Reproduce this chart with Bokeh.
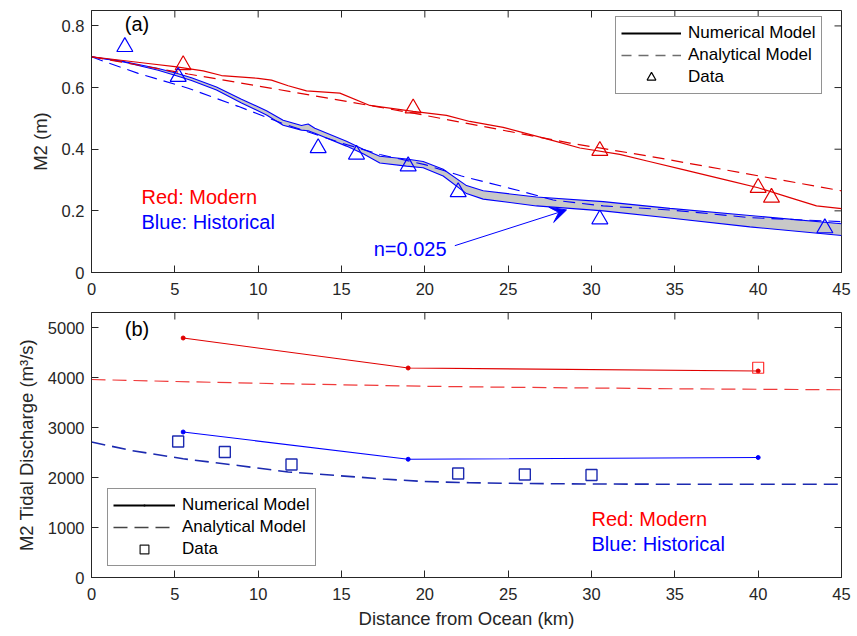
import math
from bokeh.plotting import figure
from bokeh.models import (Range1d, FixedTicker, Legend, LegendItem, Arrow, VeeHead)
from bokeh.layouts import column
from bokeh.embed import file_html
from bokeh.resources import INLINE
from bokeh.core.properties import value

FONT = "Liberation Sans"
AXC = "#262626"
NAN = float("nan")

# ---------------- shared ----------------
x_ticks = [0, 5, 10, 15, 20, 25, 30, 35, 40, 45]
x_label = "Distance from Ocean (km)"

# ---------------- panel (a): M2 amplitude ----------------
a_y_ticks = [0, 0.2, 0.4, 0.6, 0.8]
a_y_label = "M2 (m)"
a_red_num_x = [0, 3.4, 5.0, 6.7, 7.8, 10.0, 10.8, 11.8, 12.9, 14.9, 16.7, 19.3, 21.3,
               22.7, 24.7, 27.7, 29.3, 31.7, 33.4, 35.5, 38.3, 40.0, 41.9, 43.5, 45]
a_red_num_y = [0.70, 0.678, 0.668, 0.654, 0.639, 0.63, 0.624, 0.606, 0.589, 0.582, 0.542,
               0.523, 0.51, 0.49, 0.471, 0.428, 0.404, 0.383, 0.361, 0.334, 0.297, 0.275,
               0.243, 0.216, 0.207]
a_red_ana_x = [0, 5.8, 11.3, 15.3, 19.3, 23.3, 28.7, 33.5, 45]
a_red_ana_y = [0.70, 0.644, 0.593, 0.555, 0.517, 0.476, 0.42, 0.377, 0.265]
a_blue_band_x = [0, 2, 4, 5, 6, 7.5, 9, 10.5, 11.5, 12.6, 13.0, 13.4, 15.3, 16.3, 17.3,
                 18.9, 19.9, 21.1, 22.5, 23.5, 26.7, 30.7, 34.7, 39.5, 45]
a_blue_band_hi = [0.700, 0.684, 0.662, 0.648, 0.632, 0.602, 0.562, 0.525, 0.494, 0.477,
                  0.482, 0.468, 0.426, 0.400, 0.377, 0.368, 0.360, 0.335, 0.282, 0.265,
                  0.245, 0.230, 0.208, 0.185, 0.158]
a_blue_band_lo = [0.700, 0.682, 0.656, 0.640, 0.623, 0.592, 0.550, 0.511, 0.478, 0.462,
                  0.460, 0.452, 0.410, 0.385, 0.355, 0.345, 0.340, 0.313, 0.256, 0.238,
                  0.216, 0.200, 0.177, 0.148, 0.120]
a_blue_ana_x = [0, 1, 2.8, 5.8, 8.8, 11.4, 15, 17.3, 20, 22.2, 25.7, 27.7, 30.7, 34.7, 39.5, 45]
a_blue_ana_y = [0.70, 0.68, 0.646, 0.598, 0.539, 0.485, 0.42, 0.383, 0.35, 0.313, 0.265,
                0.235, 0.216, 0.203, 0.178, 0.165]
a_red_data_x = [5.5, 19.3, 30.5, 40.0, 40.8]
a_red_data_y = [0.673, 0.533, 0.395, 0.275, 0.243]
a_blue_data_x = [2.0, 5.2, 13.6, 15.9, 19.0, 22.0, 30.5, 44.0]
a_blue_data_y = [0.732, 0.635, 0.404, 0.383, 0.345, 0.261, 0.173, 0.144]
a_tag = ["(a)"]
a_tag_x = [2.0]
a_tag_y = [0.806]
a_note_text = ["Red: Modern", "Blue: Historical"]
a_note_x = [3.0, 3.0]
a_note_y = [0.245, 0.165]
a_n_text = ["n=0.025"]
a_n_x = [21.3]
a_n_y = [0.077]
a_arrow_start = (21.8, 0.087)
a_arrow_end = (28.5, 0.203)

# ---------------- panel (b): M2 tidal discharge ----------------
b_y_ticks = [0, 1000, 2000, 3000, 4000, 5000]
b_y_label = "M2 Tidal Discharge (m³/s)"
b_red_num_x = [5.5, 19.0, 40.0]
b_red_num_y = [4790, 4190, 4130]
b_blue_num_x = [5.5, 19.0, 40.0]
b_blue_num_y = [2910, 2365, 2400]
b_red_ana_x = [0, 5, 10, 15, 20, 25, 30, 35, 40, 45]
b_red_ana_y = [3960, 3920, 3885, 3855, 3825, 3805, 3790, 3775, 3765, 3755]
b_blue_ana_x = [0, 2.4, 5.5, 8.8, 11.8, 14.9, 17.5, 19.9, 22.7, 26, 30, 34, 40, 45]
b_blue_ana_y = [2710, 2540, 2375, 2240, 2110, 2035, 1970, 1920, 1895, 1880, 1870, 1866,
                1865, 1865]
b_red_data_x = [40.0]
b_red_data_y = [4195]
b_blue_data_x = [5.2, 8.0, 12.0, 22.0, 26.0, 30.0]
b_blue_data_y = [2720, 2510, 2260, 2080, 2060, 2050]
b_tag = ["(b)"]
b_tag_x = [2.0]
b_tag_y = [4980]
b_note_text = ["Red: Modern", "Blue: Historical"]
b_note_x = [30.0, 30.0]
b_note_y = [1180, 680]

legend_labels = ["Numerical Model", "Analytical Model", "Data"]

X_MAX = 45


def make_fig(ymax, yticks, frame_h, top_b, bottom_b, ylabel, with_xlabel):
    p = figure(frame_width=750, frame_height=frame_h,
               x_range=Range1d(0, X_MAX), y_range=Range1d(0, ymax),
               output_backend="svg", toolbar_location=None,
               min_border_left=91, min_border_right=12,
               min_border_top=top_b, min_border_bottom=bottom_b)
    p.grid.visible = False
    p.outline_line_color = AXC
    p.outline_line_width = 1
    p.xaxis.ticker = FixedTicker(ticks=x_ticks)
    p.yaxis.ticker = FixedTicker(ticks=yticks)
    for ax in (p.xaxis[0], p.yaxis[0]):
        ax.axis_line_color = AXC
        ax.major_tick_line_color = AXC
        ax.minor_tick_line_color = None
        ax.major_tick_in = 7
        ax.major_tick_out = 0
        ax.major_label_text_font = FONT
        ax.major_label_text_font_size = "16.5px"
        ax.major_label_text_color = AXC
        ax.axis_label_text_font = FONT
        ax.axis_label_text_font_size = "18.5px"
        ax.axis_label_text_font_style = "normal"
        ax.axis_label_text_color = AXC
    p.xaxis.major_label_standoff = 10
    p.yaxis.major_label_standoff = 7
    p.yaxis.axis_label = ylabel
    p.yaxis.axis_label_standoff = 8
    if with_xlabel:
        p.xaxis.axis_label = x_label
        p.xaxis.axis_label_standoff = 5
    # mirrored inward tick marks on the top and right frame edges (clipped to frame)
    p.scatter(x=x_ticks, y=[ymax] * len(x_ticks), marker="dash", angle=math.pi / 2,
              size=14, line_color=AXC, line_width=1)
    p.scatter(x=[X_MAX] * len(yticks), y=yticks, marker="dash",
              size=14, line_color=AXC, line_width=1)
    return p


def style_legend(p, items, loc, glyph_w):
    leg = Legend(items=items, location=loc, glyph_width=glyph_w, glyph_height=22,
                 label_height=22, label_standoff=7, padding=5, spacing=0, margin=0,
                 label_text_font=FONT, label_text_font_size="17px",
                 label_text_color="black", border_line_color=AXC, border_line_width=1,
                 background_fill_color="white", background_fill_alpha=1.0)
    p.add_layout(leg)


# ================= panel (a) =================
pa = make_fig(0.85, a_y_ticks, 262, 10, 36, a_y_label, False)
pa.varea(x=a_blue_band_x, y1=a_blue_band_lo, y2=a_blue_band_hi, fill_color="#c8c8c8")
pa.line(a_blue_band_x, a_blue_band_hi, line_color="blue", line_width=1.1)
pa.line(a_blue_band_x, a_blue_band_lo, line_color="blue", line_width=1.1)
pa.line(a_blue_ana_x, a_blue_ana_y, line_color="blue", line_width=1.1, line_dash="12 7")
pa.line(a_red_ana_x, a_red_ana_y, line_color="#e00000", line_width=1.2, line_dash="12 7")
pa.line(a_red_num_x, a_red_num_y, line_color="#e00000", line_width=1.2)
pa.scatter(a_red_data_x, a_red_data_y, marker="triangle", size=16, fill_color=None,
           line_color="#e00000", line_width=1.2)
pa.scatter(a_blue_data_x, a_blue_data_y, marker="triangle", size=16, fill_color=None,
           line_color="blue", line_width=1.2)
pa.text(x=a_tag_x, y=a_tag_y, text=a_tag, text_font=value(FONT), text_font_size="20px",
        text_baseline="middle", text_align="left", text_color="black")
pa.text(x=a_note_x, y=a_note_y, text=a_note_text, text_font=value(FONT),
        text_font_size="20px", text_baseline="middle", text_align="left",
        text_color=["red", "blue"])
pa.text(x=a_n_x, y=a_n_y, text=a_n_text, text_font=value(FONT), text_font_size="20px",
        text_baseline="middle", text_align="right", text_color="blue")
pa.add_layout(Arrow(end=VeeHead(size=16, fill_color="blue", line_color="blue"),
                    x_start=a_arrow_start[0], y_start=a_arrow_start[1],
                    x_end=a_arrow_end[0], y_end=a_arrow_end[1],
                    line_color="blue", line_width=1))

# legend-only renderers (NaN data: drawn only in the legend)
la1 = pa.line([NAN], [NAN], line_color="black", line_width=1.8)
la2 = pa.line([NAN], [NAN], line_color="#6e6e6e", line_width=1.5, line_dash="10 7")
la3 = pa.scatter([NAN], [NAN], marker="triangle", size=16, fill_color=None,
                 line_color="black", line_width=1.2)
style_legend(pa, [LegendItem(label=legend_labels[0], renderers=[la1]),
                  LegendItem(label=legend_labels[1], renderers=[la2]),
                  LegendItem(label=legend_labels[2], renderers=[la3])], (524, 178), 60)

# ================= panel (b) =================
pb = make_fig(5300, b_y_ticks, 265, 4, 50, b_y_label, True)
pb.line(b_red_ana_x, b_red_ana_y, line_color="#f03a3a", line_width=1.2, line_dash="14 7")
pb.line(b_blue_ana_x, b_blue_ana_y, line_color="#1c2ab0", line_width=1.6, line_dash="14 7")
pb.line(b_red_num_x, b_red_num_y, line_color="#e00000", line_width=1.1)
pb.scatter(b_red_num_x, b_red_num_y, marker="circle", size=4, fill_color="#e00000",
           line_color="#e00000")
pb.line(b_blue_num_x, b_blue_num_y, line_color="blue", line_width=1.1)
pb.scatter(b_blue_num_x, b_blue_num_y, marker="circle", size=4, fill_color="blue",
           line_color="blue")
pb.scatter(b_red_data_x, b_red_data_y, marker="square", size=11, fill_color=None,
           line_color="#ff3030", line_width=1.2)
pb.scatter(b_blue_data_x, b_blue_data_y, marker="square", size=11, fill_color=None,
           line_color="#1c2ab0", line_width=1.4)
pb.text(x=b_tag_x, y=b_tag_y, text=b_tag, text_font=value(FONT), text_font_size="20px",
        text_baseline="middle", text_align="left", text_color="black")
pb.text(x=b_note_x, y=b_note_y, text=b_note_text, text_font=value(FONT),
        text_font_size="20px", text_baseline="middle", text_align="left",
        text_color=["red", "blue"])

lb1 = pb.line([NAN], [NAN], line_color="black", line_width=1.8)
lb1d = pb.scatter([NAN], [NAN], marker="dot", size=16, fill_color="black",
                  line_color="black", line_width=1.5)
lb2 = pb.line([NAN], [NAN], line_color="#444444", line_width=1.3, line_dash="14 7")
lb3 = pb.scatter([NAN], [NAN], marker="square", size=11, fill_color=None,
                 line_color="#1a1a1a", line_width=1.2)
style_legend(pb, [LegendItem(label=legend_labels[0], renderers=[lb1, lb1d]),
                  LegendItem(label=legend_labels[1], renderers=[lb2]),
                  LegendItem(label=legend_labels[2], renderers=[lb3])], (16, 11), 62)

layout = column(pa, pb, spacing=0)
open("out.html", "w").write(file_html(layout, INLINE))
